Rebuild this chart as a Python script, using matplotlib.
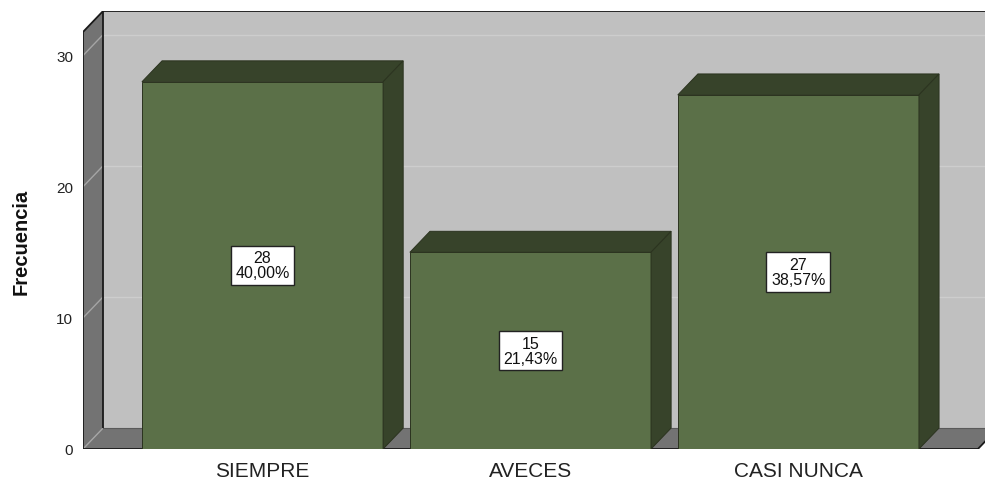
import matplotlib
matplotlib.use("Agg")
import matplotlib.pyplot as plt
from matplotlib.patches import Polygon, Rectangle

plt.rcParams['font.family'] = ['Liberation Sans', 'DejaVu Sans']

categorias = ['SIEMPRE', 'AVECES', 'CASI NUNCA']
frecuencias = [28, 15, 27]
yticks = [0, 10, 20, 30]

total = sum(frecuencias)
porcentajes = [f / total * 100 for f in frecuencias]

# 3D box geometry (data units)
XL, XR = -0.67, 2.67      # front floor left/right
YTOP = 31.8               # front top of the value axis
DX, DY = 0.075, 1.6       # depth offset
BW = 0.9                  # bar width

verde = '#5b7048'
verde_osc = '#37432a'
borde = '#2b331f'
pared = '#c0c0c0'
gris_osc = '#737373'

fig = plt.figure(figsize=(9.85, 4.81), dpi=100)
fig.patch.set_facecolor('white')
ax = fig.add_axes([83 / 985, 31 / 481, 915 / 985, 438 / 481])
ax.set_xlim(XL, XR + DX)
ax.set_ylim(0, YTOP + DY)
for s in ax.spines.values():
    s.set_visible(False)
ax.patch.set_alpha(0)

# walls and floor
ax.add_patch(Rectangle((XL + DX, DY), XR - XL, YTOP, fc=pared, ec='none', zorder=1))
ax.add_patch(Polygon([(XL, 0), (XL + DX, DY), (XL + DX, YTOP + DY), (XL, YTOP)],
                     closed=True, fc=gris_osc, ec='none', zorder=1))
ax.add_patch(Polygon([(XL, 0), (XR, 0), (XR + DX, DY), (XL + DX, DY)],
                     closed=True, fc=gris_osc, ec='none', zorder=1))

# grid lines on back and side walls
for t in yticks:
    if t > 0:
        ax.plot([XL + DX, XR + DX], [t + DY, t + DY], color='#cdcdcd', lw=1, zorder=2)
    ax.plot([XL, XL + DX], [t, t + DY], color='#a5a5a5', lw=1, zorder=2)
ax.plot([XL + DX, XR + DX], [DY, DY], color='#5a5a5a', lw=0.8, zorder=2)

# box outline
kw = dict(color='#1a1a1a', lw=1.3, zorder=3, solid_capstyle='butt')
ax.plot([XL, XL], [0, YTOP], **kw)
ax.plot([XL, XL + DX], [YTOP, YTOP + DY], **kw)
ax.plot([XL + DX, XR + DX], [YTOP + DY, YTOP + DY], **kw)
ax.plot([XL + DX, XL + DX], [DY, YTOP + DY], **kw)
ax.plot([XL, XR], [0, 0], **kw)
ax.plot([XR, XR + DX], [0, DY], **kw)

# bars
for i, v in enumerate(frecuencias):
    x0, x1 = i - BW / 2, i + BW / 2
    ax.add_patch(Rectangle((x0, 0), BW, v, fc=verde, ec=borde, lw=0.7, zorder=4))
    ax.add_patch(Polygon([(x0, v), (x1, v), (x1 + DX, v + DY), (x0 + DX, v + DY)],
                         closed=True, fc=verde_osc, ec=borde, lw=0.7, zorder=4))
    ax.add_patch(Polygon([(x1, 0), (x1 + DX, DY), (x1 + DX, v + DY), (x1, v)],
                         closed=True, fc=verde_osc, ec=borde, lw=0.7, zorder=4))
    etiqueta = f"{v}\n{porcentajes[i]:.2f}%".replace('.', ',')
    ax.text(i, v / 2, etiqueta, ha='center', va='center', fontsize=11.5,
            linespacing=1.0, color='#111111', zorder=6,
            bbox=dict(boxstyle='square,pad=0.3', fc='white', ec='#222222', lw=1))

ax.set_yticks(yticks)
ax.set_yticklabels([str(t) for t in yticks], fontsize=11, color='#222222')
ax.set_xticks(range(len(categorias)))
ax.set_xticklabels(categorias, fontsize=15, color='#222222')
ax.tick_params(axis='y', length=0, pad=7)
ax.tick_params(axis='x', length=0, pad=9)

fig.text(21 / 985, 1 - 242 / 481, 'Frecuencia', rotation=90, ha='center', va='center',
         fontsize=14.5, fontweight='bold', color='#111111')

fig.savefig('out.png', dpi=100)
